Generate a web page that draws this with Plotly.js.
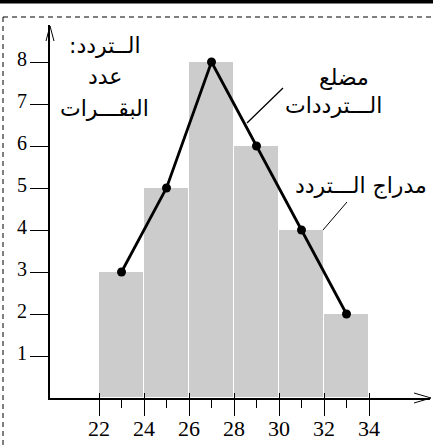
<!DOCTYPE html>
<html><head><meta charset="utf-8">
<script src="https://cdn.plot.ly/plotly-3.0.1.min.js"></script>
<style>html,body{margin:0;padding:0;background:#fff;}</style>
</head><body><div id="chart"></div>
<script>
// Data
const classStarts = [22, 24, 26, 28, 30, 32];
const classWidth = 2;
const midpoints = [23, 25, 27, 29, 31, 33];
const frequencies = [3, 5, 8, 6, 4, 2];
const xTicks = [22, 24, 26, 28, 30, 32, 34];
const xMinorTicks = [23, 25, 27, 29, 31, 33];
const yTicks = [1, 2, 3, 4, 5, 6, 7, 8];
const yTitleLines = ['الــتردد:\u200F', 'عدد', 'البقـــرات'];
const polygonLabel = ['مضلع', 'الـــترددات'];
const histLabel = 'مدراج الـــتردد';

const W = 433, H = 445, ML = 50, MR = 3, MT = 25, MB = 47;
const PW = W - ML - MR, PH = H - MT - MB;
const px = x => (x - ML) / PW;          // pixel -> paper x
const py = y => (H - MB - y) / PH;      // pixel -> paper y

const arab = 'DejaVu Sans';
const serif = 'Times New Roman';
const xRange = [22 - 49 / 22.5, 22 + 331 / 22.5];

const traces = [
  {type: 'bar', x: classStarts.map(s => s + classWidth / 2), y: frequencies, width: classWidth,
   marker: {color: '#cccccc', line: {color: '#ffffff', width: 1}}, hoverinfo: 'skip'},
  {type: 'scatter', mode: 'lines+markers', x: midpoints, y: frequencies,
   line: {color: '#000', width: 2.8}, marker: {color: '#000', size: 9}, hoverinfo: 'skip'},
  {type: 'scatter', x: [xTicks[0]], y: [0], xaxis: 'x2', mode: 'none', hoverinfo: 'skip'}
];

const shapes = [
  {type: 'rect', xref: 'paper', yref: 'paper', x0: px(0), x1: px(W), y0: py(3.5), y1: py(0), fillcolor: '#000', line: {width: 0}, layer: 'above'},
  {type: 'line', xref: 'paper', yref: 'paper', x0: px(3), x1: px(W), y0: py(17), y1: py(17), line: {color: '#000', width: 1, dash: '5px,4px'}},
  {type: 'line', xref: 'paper', yref: 'paper', x0: px(3), x1: px(3), y0: py(17), y1: py(H), line: {color: '#000', width: 1, dash: '5px,4px'}},
  {type: 'path', xref: 'paper', yref: 'paper', path: `M ${px(46)} ${py(41)} L ${px(50)} ${py(26)} L ${px(54)} ${py(41)}`, line: {color: '#000', width: 1}},
  {type: 'path', xref: 'paper', yref: 'paper', path: `M ${px(414)} ${py(393)} L ${px(431)} ${py(398)} L ${px(414)} ${py(403)}`, line: {color: '#000', width: 1}},
  {type: 'line', xref: 'paper', yref: 'paper', x0: px(283), y0: py(88), x1: px(247), y1: py(123), line: {color: '#000', width: 1.3}},
  {type: 'line', xref: 'paper', yref: 'paper', x0: px(347), y0: py(202), x1: px(323), y1: py(230), line: {color: '#000', width: 1}}
];

const annotations = [];
const ann = (x, y, t) => annotations.push({xref: 'paper', yref: 'paper', x: px(x), y: py(y), text: t, showarrow: false, xanchor: 'center', yanchor: 'middle', font: {family: arab, size: 22, color: '#000'}});
ann(105, 45, yTitleLines[0]); ann(105, 76, yTitleLines[1]); ann(104, 108, yTitleLines[2]);
ann(344, 77, polygonLabel[0]); ann(333, 105, polygonLabel[1]);
ann(361, 186, histLabel);
// tick labels placed through the axes' own scales
xTicks.forEach(v => annotations.push({xref: 'x', yref: 'paper', x: v, y: py(428), text: String(v), showarrow: false,
  xanchor: 'center', yanchor: 'middle', font: {family: serif, size: 22, color: '#000'}}));
yTicks.forEach(v => annotations.push({xref: 'paper', yref: 'y', x: px(29), y: v, yshift: 3, text: String(v), showarrow: false,
  xanchor: 'right', yanchor: 'middle', font: {family: serif, size: 20, color: '#000'}}));

const layout = {
  width: W, height: H, margin: {l: ML, r: MR, t: MT, b: MB, pad: 0},
  paper_bgcolor: '#fff', plot_bgcolor: '#fff', showlegend: false, bargap: 0,
  xaxis: {range: xRange, tickvals: xTicks, ticks: 'outside', ticklen: 16, tickwidth: 1.3, tickcolor: '#000',
    showticklabels: false, showline: true, linecolor: '#000', linewidth: 1.5, showgrid: false, zeroline: false,
    minor: {tickvals: xMinorTicks, ticks: 'outside', ticklen: 8, tickwidth: 1.3, tickcolor: '#000', showgrid: false}},
  xaxis2: {range: xRange, overlaying: 'x', anchor: 'y', side: 'bottom', tickvals: xTicks, ticks: 'inside', ticklen: 5,
    tickwidth: 1.3, tickcolor: '#000', showticklabels: false, showline: false, showgrid: false, zeroline: false},
  yaxis: {range: [0, 373 / 42], tickvals: yTicks, ticks: 'outside', ticklen: 18, tickwidth: 1.3, tickcolor: '#000',
    showticklabels: false, showline: true, linecolor: '#000', linewidth: 1.5, showgrid: false, zeroline: false},
  shapes: shapes, annotations: annotations
};
Plotly.newPlot('chart', traces, layout, {displayModeBar: false});
</script></body></html>
